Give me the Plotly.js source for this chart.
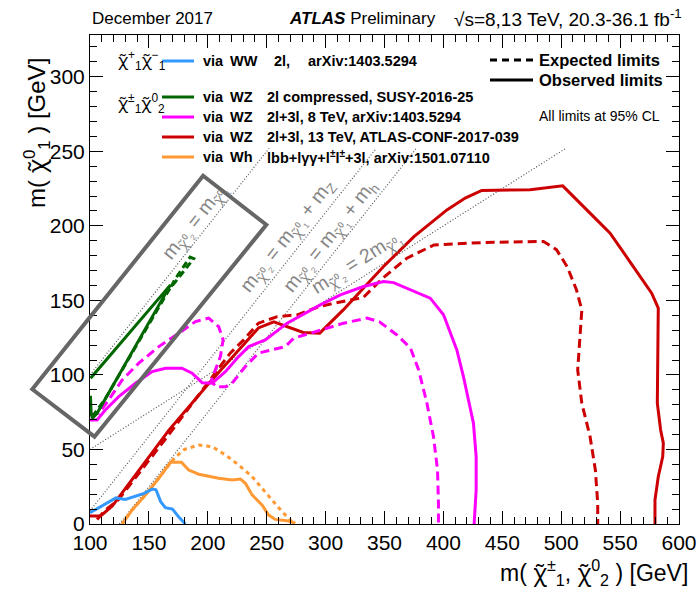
<!DOCTYPE html>
<html>
<head>
<meta charset="utf-8">
<script src="https://cdn.plot.ly/plotly-3.0.1.min.js"></script>
<style>html,body{margin:0;padding:0;background:#fff;}#chart{width:700px;height:592px;}</style>
</head>
<body>
<div id="chart"></div>
<script>
// ---------- data ----------
// chi1+chi1- via WW, 2l (observed)
const wwObsX = [100, 110, 122, 130, 139, 146, 153, 156, 160, 164, 170, 175, 181];
const wwObsY = [7.5, 12, 17.5, 16.5, 18.5, 20.5, 23.5, 23, 15, 11, 10, 5, 0];

// chi1+-chi20 via WZ, 2l compressed
const wzCompObsX = [100.5, 168.3, 106, 102, 101, 100.4];
const wzCompObsY = [97.8, 160.4, 74.3, 71, 74, 86];
const wzCompExpX = [102, 113, 167, 188, 185, 172, 168];
const wzCompExpY = [72, 84, 157, 178, 179, 164, 158];

// chi1+-chi20 via WZ, 2l+3l 8 TeV
const wz8ObsX = [100, 106, 113, 124.4, 138.6, 152.8, 164, 178, 186.7, 195.2, 203.6, 214.9, 226.2, 234.7, 248.9, 267.3, 295.5, 312.5, 332.2, 349.2, 357.7, 388.8, 400.1, 411.4, 417, 425.5, 427.8, 427.8, 426.1];
const wz8ObsY = [69.8, 69.8, 76.5, 85.4, 94.4, 102.2, 104.5, 104.5, 101.1, 94.8, 94.4, 102.2, 112.3, 119, 123.5, 134.7, 147, 153.7, 159.3, 162.6, 161.9, 151.5, 140.3, 116.8, 98.9, 67.6, 45.2, 22.8, 0];
const wz8ExpX = [100, 107.5, 115.9, 127.3, 141.4, 158.4, 175.4, 189.5, 200.8, 209.2, 213, 210.7, 206.4, 203, 207, 215, 220.6, 231.9, 243, 255, 265.8, 272.9, 295.5, 315.3, 335.1, 346, 360.6, 372, 379, 386, 391.6, 395, 395.8, 395.8];
const wz8ExpY = [73.2, 74.3, 83.2, 96.6, 107.9, 119, 128, 135.8, 138.1, 132.4, 123.5, 112.3, 103.4, 96, 92, 92, 94.4, 105.6, 114.6, 116.8, 119, 124.6, 130.2, 134.7, 138.1, 135.5, 126.8, 118, 103.4, 81, 58.6, 36.2, 13.9, 0];

// chi1+-chi20 via WZ, 2l+3l 13 TeV
const wz13ObsX = [100, 109, 119, 167, 201, 219, 243, 256, 281, 295, 315, 332, 349, 375, 403, 418.5, 432.6, 473.6, 501.3, 530.2, 541.5, 561.2, 576.8, 582.4, 581.6, 581.6, 584.4, 586.7, 586.2, 582.4, 579.6, 579.6];
const wz13ObsY = [5.4, 5.4, 12.1, 63, 94.4, 110, 131.5, 135.6, 128.5, 128, 143.6, 158.2, 172.6, 192.8, 210.7, 218.6, 223.7, 224.2, 226.8, 204, 195.1, 172.7, 154.8, 144.8, 103.4, 81, 63.1, 54.2, 45.2, 31.7, 16.1, 0];
const wz13ExpX = [106, 113, 124, 165, 219, 230.5, 243, 259, 276, 293, 307, 332, 349, 369, 392, 434, 485, 496, 505, 513, 517.5, 516, 514, 517.5, 524.5, 529, 531, 531];
const wz13ExpY = [3, 9.4, 16.1, 58, 114.6, 123.5, 134.7, 139.1, 140.3, 145.4, 148.1, 151.9, 165.3, 178.3, 187.2, 188.8, 189.5, 184, 172.7, 157, 143.6, 125.7, 103.4, 81, 58.6, 36.2, 13.9, 0];

// chi1+-chi20 via Wh
const whObsX = [127.3, 135.8, 147, 158.4, 168.3, 177.6, 183.8, 192.3, 209.2, 220.6, 227.7, 231.9, 237.6, 246, 251.7, 257.3, 268.6, 274.3];
const whObsY = [0, 9.4, 19.5, 30.7, 41.4, 41.4, 36.2, 33.4, 30.7, 29.5, 30.2, 27.3, 19.5, 12.8, 6, 3.1, 2, 0.5];
const whExpX = [127.3, 135.8, 147, 158.4, 168.3, 172, 180, 192.3, 203.6, 215, 226.2, 237.6, 246, 254.5, 263, 270, 273];
const whExpY = [0, 9.4, 19.5, 30.7, 41, 44.5, 50, 53, 51.9, 46.3, 39.6, 31.8, 24, 16.1, 8.3, 2.7, 0];

// kinematic reference lines (endpoints)
const kinX = [[100, 252], [100, 343], [125, 377], [100, 504]];
const kinY = [[100, 252], [8.8, 252], [0, 252], [50, 252]];

// highlighted box corners (data coordinates)
const boxX = [51, 196, 249.7, 103.8];
const boxY = [90.4, 233.6, 200.7, 58.6];

// ---------- styling ----------
const FONT = 'Liberation Sans, Arial, Helvetica, sans-serif';
const C = {ww: '#3399ff', comp: '#006600', wz8: '#ff00ff', wz13: '#cc0000', wh: '#ff9933'};
const XR = [100, 600], YR = [0, 328];
const L = 90, R = 21, T = 35, B = 68, W = 700, H = 592;
const PW = W - L - R, PH = H - T - B;
const PX = p => (p - L) / PW;          // pixel -> paper
const PY = p => (H - B - p) / PH;
const DX = x => (x - XR[0]) / (XR[1] - XR[0]);  // data -> paper
const DY = y => (y - YR[0]) / (YR[1] - YR[0]);

function line(x, y, color, dash, width) {
  return {x: x, y: y, type: 'scatter', mode: 'lines', showlegend: false, hoverinfo: 'skip',
          line: {color: color, width: width || 3, dash: dash || 'solid'}};
}

const traces = [];
kinX.forEach((xs, i) => traces.push(line(xs, kinY[i], '#555555', '1px,2px', 1.2)));
traces.push(line(wz13ExpX, wz13ExpY, C.wz13, '9px,5px'));
traces.push(line(wz13ObsX, wz13ObsY, C.wz13));
traces.push(line(wz8ExpX, wz8ExpY, C.wz8, '9px,5px'));
traces.push(line(wz8ObsX, wz8ObsY, C.wz8));
traces.push(line(wzCompExpX, wzCompExpY, C.comp, '7px,4px'));
traces.push(line(wzCompObsX, wzCompObsY, C.comp));
traces.push(line(whExpX, whExpY, C.wh, '4px,4px'));
traces.push(line(whObsX, whObsY, C.wh));
traces.push(line(wwObsX, wwObsY, C.ww));

// ---------- annotations ----------
const ann = [];
function f(size, extra) { return Object.assign({family: FONT, size: size, color: '#000'}, extra || {}); }
function txt(x, y, text, size) {
  ann.push({xref: 'paper', yref: 'paper', x: PX(x), y: PY(y), text: text,
    showarrow: false, xanchor: 'left', yanchor: 'middle', font: f(size || 14.5)});
}
// chi-tilde rendered with a font that positions the combining tilde over the chi
const CHI = '<span style="font-family:Noto Sans">χ̃</span>';

// header
txt(90, 18, 'December 2017', 17);
txt(287, 18, '<b><i>ATLAS</i></b> Preliminary', 17);
txt(452, 18, '√s=8,13 TeV, 20.3-36.1 fb<sup>-1</sup>', 19);

// legend
const legendRows = [
  {y: 61, color: C.ww, via: 'WW', desc: null},
  {y: 97, color: C.comp, via: 'WZ', desc: '2l compressed, SUSY-2016-25'},
  {y: 117, color: C.wz8, via: 'WZ', desc: '2l+3l, 8 TeV, arXiv:1403.5294'},
  {y: 137, color: C.wz13, via: 'WZ', desc: '2l+3l, 13 TeV, ATLAS-CONF-2017-039'},
  {y: 157, color: C.wh, via: 'Wh', desc: 'lbb+lγγ+l<sup>±</sup>l<sup>±</sup>+3l, arXiv:1501.07110'}
];
const shapes = [];
legendRows.forEach(r => {
  shapes.push({type: 'line', xref: 'paper', yref: 'paper', x0: PX(162), x1: PX(194), y0: PY(r.y), y1: PY(r.y),
               line: {color: r.color, width: 3}});
  txt(201, r.y, '<b>via</b>');
  txt(228, r.y, '<b>' + r.via + '</b>');
  if (r.desc) txt(265, r.y, '<b>' + r.desc + '</b>');
});
txt(272, 61, '<b>2l,</b>');
txt(306, 61, '<b>arXiv:1403.5294</b>');
txt(116, 61, CHI + '<sup>+</sup><sub>1</sub>' + CHI + '<sup>−</sup><sub>1</sub>', 17);
txt(116, 103, CHI + '<sup>±</sup><sub>1</sub>' + CHI + '<sup>0</sup><sub>2</sub>', 17);

shapes.push({type: 'line', xref: 'paper', yref: 'paper', x0: PX(490), x1: PX(533), y0: PY(60), y1: PY(60),
             line: {color: '#000', width: 3, dash: '7px,5px'}});
shapes.push({type: 'line', xref: 'paper', yref: 'paper', x0: PX(490), x1: PX(533), y0: PY(80), y1: PY(80),
             line: {color: '#000', width: 3}});
txt(537, 60, '<b>Expected limits</b>', 16.5);
txt(537, 80, '<b>Observed limits</b>', 16.5);
txt(537, 116, 'All limits at 95% CL', 14);

// box
shapes.push({type: 'path', xref: 'paper', yref: 'paper', layer: 'above',
  path: 'M' + boxX.map((x, i) => DX(x) + ',' + DY(boxY[i])).join(' L') + ' Z',
  line: {color: '#666666', width: 4}});

// diagonal labels
const gray = f(19.5, {color: '#858585'});
const m2 = 'm<sub>' + CHI + '⁰₂</sub>', m1 = 'm<sub>' + CHI + '⁰₁</sub>';
ann.push({xref: 'x', yref: 'y', x: 189.5, y: 202.7, text: m2 + ' = ' + m1, textangle: -51.6, showarrow: false, font: gray});
ann.push({xref: 'x', yref: 'y', x: 268.4, y: 193.3, text: m2 + ' = ' + m1 + ' + m<sub>Z</sub>', textangle: -51.6, showarrow: false, font: gray});
ann.push({xref: 'x', yref: 'y', x: 304, y: 192.8, text: m2 + ' = ' + m1 + ' + m<sub>h</sub>', textangle: -51.6, showarrow: false, font: gray});
ann.push({xref: 'x', yref: 'y', x: 326.6, y: 175.2, text: m2 + ' = 2' + m1, textangle: -32.3, showarrow: false, font: gray});

// axis titles
ann.push({xref: 'paper', yref: 'paper', x: PX(36), y: PY(133), text: 'm( ' + CHI + '<sup>0</sup><sub>1</sub> ) [GeV]',
  textangle: -90, showarrow: false, xanchor: 'center', yanchor: 'middle', font: f(24)});
ann.push({xref: 'paper', yref: 'paper', x: PX(690), y: PY(572), text: 'm( ' + CHI + '<sup>±</sup><sub>1</sub>, ' + CHI + '<sup>0</sup><sub>2</sub> ) [GeV]',
  showarrow: false, xanchor: 'right', yanchor: 'middle', font: f(23)});

const axisCommon = {
  showgrid: false, zeroline: false, showline: true, linecolor: '#000', linewidth: 1, mirror: 'allticks',
  ticks: 'inside', ticklen: 13, tickwidth: 1, tickcolor: '#000',
  tickfont: f(21),
  minor: {dtick: 10, ticks: 'inside', ticklen: 7, tickwidth: 1, tickcolor: '#000', showgrid: false}
};

const layout = {
  width: W, height: H,
  margin: {l: L, r: R, t: T, b: B},
  font: f(14),
  paper_bgcolor: '#fff', plot_bgcolor: '#fff',
  xaxis: Object.assign({}, axisCommon, {range: XR, dtick: 50, tick0: 0}),
  yaxis: Object.assign({}, axisCommon, {range: YR, dtick: 50, tick0: 0}),
  annotations: ann, shapes: shapes, showlegend: false
};

Plotly.newPlot('chart', traces, layout, {staticPlot: true});
</script>
</body>
</html>
